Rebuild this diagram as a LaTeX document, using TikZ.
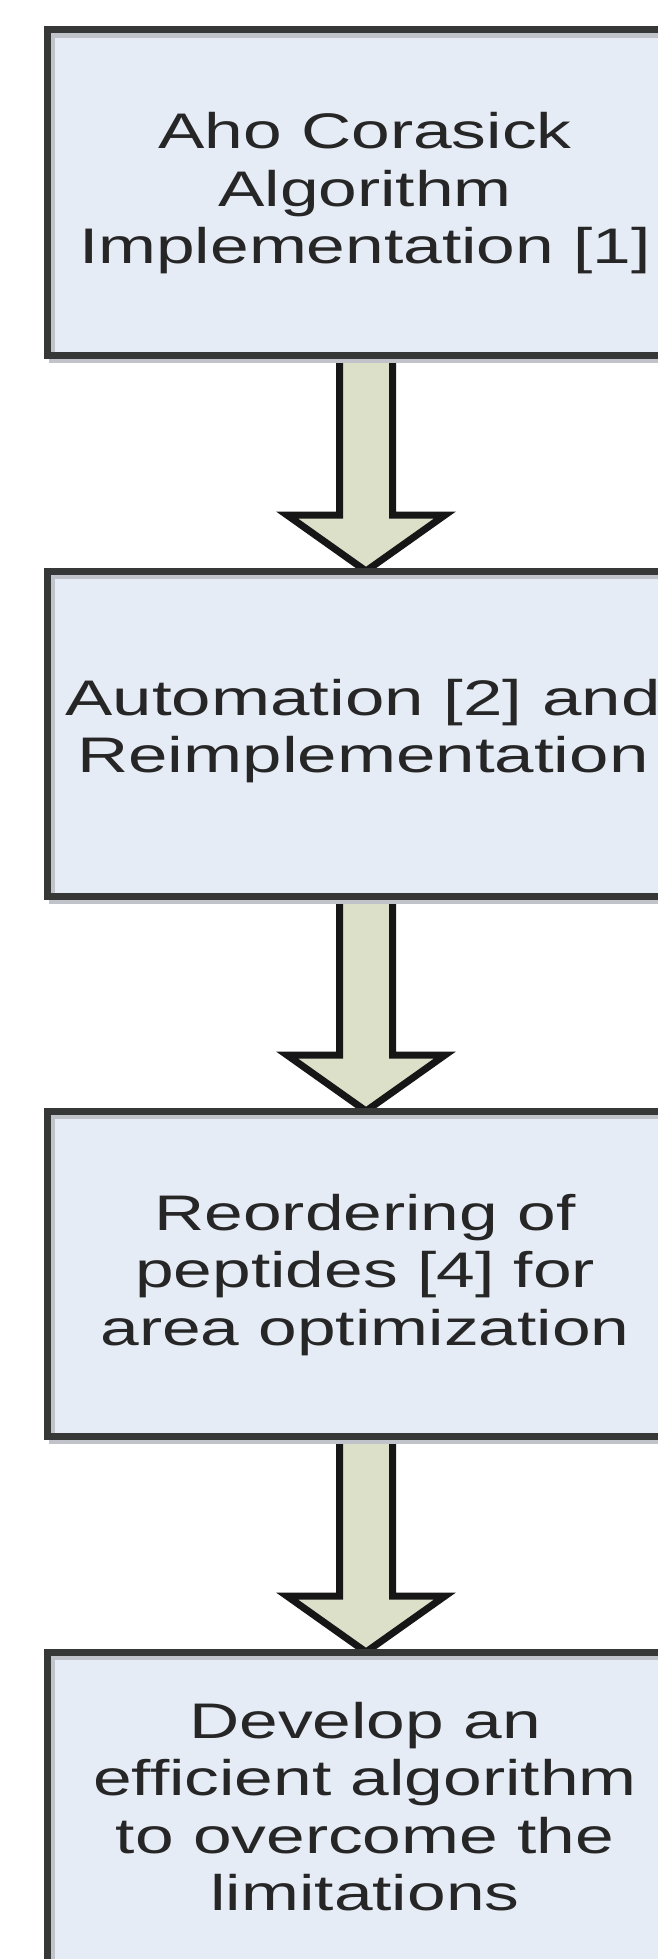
\documentclass[tikz,border=0pt]{standalone}
\usepackage{fontspec}
\setmainfont{Liberation Sans}
\usetikzlibrary{calc}
\definecolor{boxfill}{RGB}{230,236,246}
\definecolor{boxline}{RGB}{54,56,56}
\definecolor{arrfill}{RGB}{220,224,201}
\definecolor{shadowc}{RGB}{192,195,201}
\definecolor{arrline}{RGB}{22,22,22}
\definecolor{txt}{RGB}{38,38,38}
\pgfdeclarelayer{bg}
\pgfsetlayers{bg,main}
\tikzset{
  stepbox/.style={fill=boxfill, minimum width=638pt, minimum height=325pt,
    inner sep=0pt, outer sep=0pt, anchor=north},
  boxborder/.style={draw=boxline, line width=7pt},
  shadowline/.style={draw=shadowc, line width=6pt},
  arrowline/.style={draw=arrline, line width=7pt, line join=miter},
  boxtext/.style={anchor=base, inner sep=0pt, xscale=1.39, transform shape,
    font=\fontsize{50}{57.5}\selectfont, text=txt},
}
\newcommand\blockarrow[2]{%
  \begin{pgfonlayer}{bg}
  \path[fill=arrfill] let \p1=(#1.south), \p2=(#2.north) in
    (\x1-26.5pt,\y1) -- (\x1-26.5pt,\y2+56pt) -- (\x1-79pt,\y2+56pt) --
    (\x1,\y2) -- (\x1+79pt,\y2+56pt) -- (\x1+26.5pt,\y2+56pt) --
    (\x1+26.5pt,\y1) -- cycle;
  \draw[shadowline, xshift=5pt, yshift=-5pt] let \p1=(#1.south), \p2=(#2.north) in
    (\x1-26.5pt,\y1) -- (\x1-26.5pt,\y2+56pt) -- (\x1-79pt,\y2+56pt) --
    (\x1,\y2) -- (\x1+79pt,\y2+56pt) -- (\x1+26.5pt,\y2+56pt) --
    (\x1+26.5pt,\y1);
  \draw[arrowline] let \p1=(#1.south), \p2=(#2.north) in
    (\x1-26.5pt,\y1) -- (\x1-26.5pt,\y2+56pt) -- (\x1-79pt,\y2+56pt) --
    (\x1,\y2) -- (\x1+79pt,\y2+56pt) -- (\x1+26.5pt,\y2+56pt) --
    (\x1+26.5pt,\y1);
  \end{pgfonlayer}%
}
\newcommand\boxedges[1]{%
  \draw[shadowline] ([shift={(5pt,-5pt)}]#1.north west) rectangle ([shift={(5pt,-5pt)}]#1.south east);
  \draw[boxborder] (#1.north west) rectangle (#1.south east);
}
\begin{document}
\begin{tikzpicture}[x=1pt,y=1pt]
  \useasboundingbox (0,0) rectangle (658,-1959);
  \clip (0,0) rectangle (658,-1959);
  \begin{pgfonlayer}{bg}
    \fill[white] (0,0) rectangle (658,-1959);
  \end{pgfonlayer}

  \node[stepbox] (b1) at (366,-30) {};
  \node[stepbox] (b2) at (366,-571) {};
  \node[stepbox] (b3) at (366,-1111) {};
  \node[stepbox] (b4) at (366,-1652) {};

  \blockarrow{b1}{b2}
  \blockarrow{b2}{b3}
  \blockarrow{b3}{b4}

  \boxedges{b1}
  \boxedges{b2}
  \boxedges{b3}
  \boxedges{b4}

  \node[boxtext] (t1) at (365,-148.5)
    {\begin{tabular}[t]{@{}c@{}}Aho Corasick\\Algorithm\\Implementation [1]\end{tabular}};
  \node[boxtext, xscale=1.02] (t2) at (363,-715)
    {\begin{tabular}[t]{@{}c@{}}Automation [2] and\\Reimplementation\end{tabular}};
  \node[boxtext] (t3) at (365,-1230)
    {\begin{tabular}[t]{@{}c@{}}Reordering of\\peptides [4] for\\area optimization\end{tabular}};
  \node[boxtext] (t4) at (365,-1738)
    {\begin{tabular}[t]{@{}c@{}}Develop an\\efficient algorithm\\to overcome the\\limitations\end{tabular}};
\end{tikzpicture}
\end{document}
